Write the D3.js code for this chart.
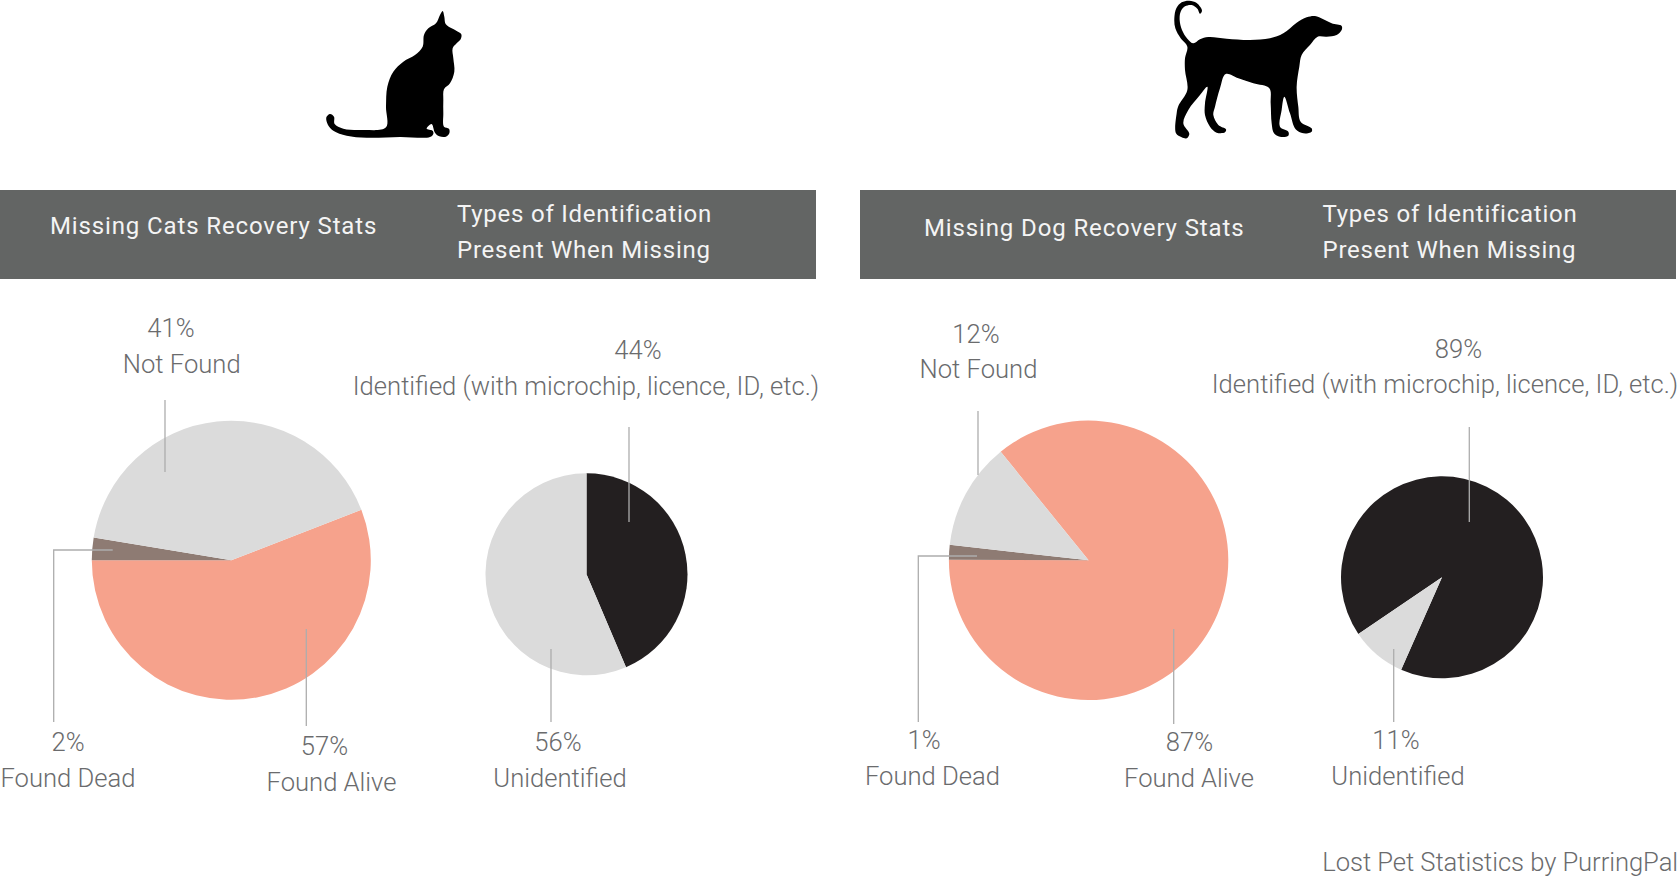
<!DOCTYPE html>
<html>
<head>
<meta charset="utf-8">
<script src="https://d3js.org/d3.v7.min.js"></script>
<style>
  body { margin: 0; background: #fff; }
  text { font-family: Roboto, sans-serif; }
  .label { font-weight: 300; font-size: 25.6px; fill: #6a6b6d; }
  .head { font-weight: 400; font-size: 24px; fill: #f4f4f4; letter-spacing: 0.76px; }
  .title { letter-spacing: 0.87px; }
  .leader { fill: none; stroke: #adadad; stroke-width: 1.3; }
</style>
</head>
<body>
<div id="chart"></div>
<script>
// slice shares, they don't quite follow the printed percentages
var recoveryCategories = ["Found Alive", "Found Dead", "Not Found"];
var catRecovery = [55.9, 2.6, 41.5];
var dogRecovery = [85.9, 1.7, 12.4];
var idCategories = ["Identified", "Unidentified"];
var catId = [43.6, 56.4];
var dogId = [91.1, 8.9];

// printed percentages
var catRecoveryLabels = ["57%", "2%", "41%"];
var dogRecoveryLabels = ["87%", "1%", "12%"];
var catIdLabels = ["44%", "56%"];
var dogIdLabels = ["89%", "11%"];

var idLongName = "Identified (with microchip, licence, ID, etc.)";

var recoveryColor = d3.scaleOrdinal().domain(recoveryCategories).range(["#f6a28c", "#8e7b73", "#dbdbdb"]);
var idColor = d3.scaleOrdinal().domain(idCategories).range(["#231f20", "#dbdbdb"]);

var svg = d3.select("#chart")
            .append("svg")
            .attr("width", 1678)
            .attr("height", 878)
            .style("display", "block");

// header bands
var bands = [
  {x: 0, w: 816, title: "Missing Cats Recovery Stats", tx: 50, ty: 234, idx: 457},
  {x: 860, w: 816, title: "Missing Dog Recovery Stats", tx: 924, ty: 236, idx: 1322.5}
];
bands.forEach(function(b) {
  svg.append("rect").attr("x", b.x).attr("y", 190).attr("width", b.w).attr("height", 89).attr("fill", "#636564");
  svg.append("text").attr("class", "head title").attr("x", b.tx).attr("y", b.ty).text(b.title);
  svg.append("text").attr("class", "head").attr("x", b.idx).attr("y", 222).text("Types of Identification");
  svg.append("text").attr("class", "head").attr("x", b.idx).attr("y", 258).text("Present When Missing");
});

//draws one pie, angles in degrees clockwise from 12 o'clock
function drawPie(names, values, color, cx, cy, r, startDeg) {
  var start = startDeg * Math.PI / 180;
  var pie = d3.pie().sort(null).startAngle(start).endAngle(start + 2 * Math.PI);
  var arc = d3.arc().innerRadius(0).outerRadius(r);
  var rows = names.map(function(n, i) { return {name: n, value: values[i]}; });
  svg.append("g")
    .attr("transform", `translate(${cx}, ${cy})`)
    .selectAll("path")
    .data(pie.value(d => d.value)(rows))
    .enter()
    .append("path")
    .attr("d", arc)
    .attr("fill", d => color(d.data.name));
}

drawPie(recoveryCategories, catRecovery, recoveryColor, 231.3, 560.3, 139.5, 68.8);
drawPie(idCategories, catId, idColor, 586.5, 574.3, 101, 0);
drawPie(recoveryCategories, dogRecovery, recoveryColor, 1088.6, 560.3, 139.7, -39);
drawPie(idCategories, dogId, idColor, 1442, 577.3, 101, 235.9);

// leader lines
var leaders = [
  [[165, 400], [165, 472]],
  [[53.7, 722], [53.7, 550], [112.7, 550]],
  [[306.3, 629], [306.3, 726]],
  [[629, 427], [629, 522]],
  [[551, 649], [551, 722]],
  [[978, 411], [978, 475]],
  [[918.3, 722], [918.3, 556], [977, 556]],
  [[1173.7, 629], [1173.7, 724]],
  [[1469.3, 427], [1469.3, 522]],
  [[1393.7, 649], [1393.7, 722]]
];
var leaderLine = d3.line();
svg.selectAll(".leader")
  .data(leaders)
  .enter()
  .append("path")
  .attr("class", "leader")
  .attr("d", d => leaderLine(d));

// value + name pairs, x is the centre of each line
function labelPair(pct, pctX, pctY, name, nameX, nameY) {
  svg.append("text").attr("class", "label").attr("text-anchor", "middle").attr("x", pctX).attr("y", pctY).text(pct);
  svg.append("text").attr("class", "label").attr("text-anchor", "middle").attr("x", nameX).attr("y", nameY).text(name);
}

labelPair(catRecoveryLabels[2], 171, 337, recoveryCategories[2], 181.7, 373);
labelPair(catRecoveryLabels[1], 68, 751, recoveryCategories[1], 68, 787);
labelPair(catRecoveryLabels[0], 324.5, 755, recoveryCategories[0], 331.5, 791);
labelPair(catIdLabels[0], 638, 359, idLongName, 586, 395);
labelPair(catIdLabels[1], 558, 751, idCategories[1], 560, 787);

labelPair(dogRecoveryLabels[2], 976, 342.5, recoveryCategories[2], 978.5, 378);
labelPair(dogRecoveryLabels[1], 924, 749, recoveryCategories[1], 932.5, 785);
labelPair(dogRecoveryLabels[0], 1189.5, 751, recoveryCategories[0], 1189, 787);
labelPair(dogIdLabels[0], 1458.5, 357.5, idLongName, 1445, 393);
labelPair(dogIdLabels[1], 1396, 749, idCategories[1], 1398, 785);

svg.append("text").attr("class", "label").attr("text-anchor", "end")
  .style("letter-spacing", "-0.06px")
  .attr("x", 1678).attr("y", 871).text("Lost Pet Statistics by PurringPal");

// silhouettes, traced by hand
var catShape = [[428,33],[433,50],[437,72],[455,85],[470,93],[484,103],[482,118],[470,130],[458,145],[460,175],[463,215],[450,250],[432,268],[430,300],[430,340],[432,380],[447,386],[448,400],[438,410],[418,409],[405,398],[395,372],[380,386],[398,392],[400,402],[390,411],[300,411],[200,413],[140,407],[100,392],[84,375],[79,352],[90,342],[102,350],[104,372],[130,386],[190,390],[258,382],[258,320],[262,260],[280,215],[310,185],[345,165],[368,140],[372,105],[385,85],[408,70],[420,45]];
var dogShape = [[112,140],[92,115],[76,85],[73,55],[79,25],[95,7],[118,2],[140,9],[156,32],[150,41],[142,26],[125,15],[105,19],[92,35],[89,60],[96,90],[112,116],[130,130],[150,118],[175,111],[230,116],[300,120],[360,115],[400,100],[440,68],[470,52],[495,48],[520,58],[545,70],[575,78],[575,90],[560,105],[530,110],[503,110],[480,135],[455,165],[448,200],[440,260],[445,320],[452,365],[485,385],[485,395],[460,400],[437,388],[420,340],[403,290],[395,330],[390,380],[415,395],[415,407],[390,410],[372,400],[365,370],[362,310],[358,265],[310,250],[265,235],[227,222],[210,265],[195,320],[190,345],[205,375],[228,388],[225,397],[200,398],[180,380],[165,345],[165,310],[172,260],[150,285],[115,330],[100,370],[118,402],[110,415],[95,412],[78,400],[80,340],[85,318],[112,270],[105,210],[105,175]];

var shapeLine = d3.line().curve(d3.curveCatmullRomClosed.alpha(0.5));
svg.append("path").attr("transform", "translate(300, 0) scale(0.3333)").attr("d", shapeLine(catShape)).attr("fill", "#000");
svg.append("path").attr("transform", "translate(1150, 0) scale(0.3333)").attr("d", shapeLine(dogShape)).attr("fill", "#000");
</script>
</body>
</html>
